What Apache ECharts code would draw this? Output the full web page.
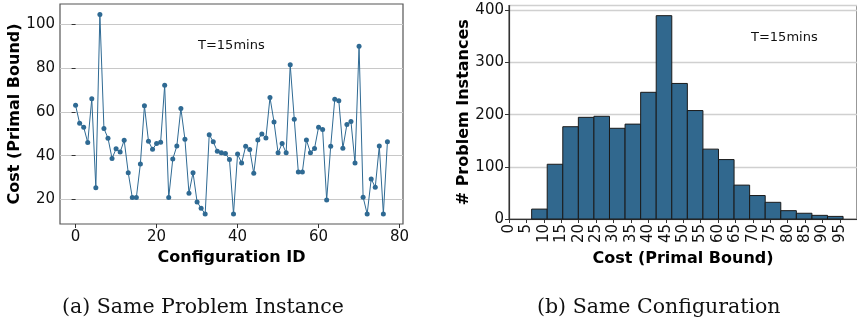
<!DOCTYPE html>
<html>
<head>
<meta charset="utf-8">
<script src="https://cdn.jsdelivr.net/npm/echarts@6/dist/echarts.min.js"></script>
<style>
  html, body { margin: 0; padding: 0; background: #fff; }
  #main { width: 857px; height: 321px; }
</style>
</head>
<body>
<div id="main"></div>
<script>
// (a) cost of each configuration, same problem instance
var costs = [63.0, 54.8, 53.0, 46.0, 66.0, 25.3, 104.6, 52.4, 48.0, 38.7,
             43.1, 41.6, 47.0, 32.2, 20.8, 20.8, 36.2, 62.8, 46.6, 42.9,
             45.5, 46.1, 72.2, 20.8, 38.4, 44.4, 61.6, 47.5, 22.8, 32.2,
             18.8, 15.9, 13.3, 49.6, 46.3, 42.0, 41.3, 41.0, 38.2, 13.3,
             40.7, 36.6, 44.3, 42.8, 31.9, 47.2, 49.9, 48.1, 66.6, 55.4,
             41.3, 45.5, 41.3, 81.6, 56.7, 32.5, 32.5, 47.2, 41.3, 43.3,
             53.0, 51.9, 19.7, 44.3, 65.8, 65.1, 43.4, 54.3, 55.6, 36.6,
             90.1, 21.0, 13.3, 29.3, 25.5, 44.4, 13.3, 46.3];
var idTicks = [0, 20, 40, 60, 80];
var costTicks = [20, 40, 60, 80, 100];

// (b) histogram of cost, same configuration
var binEdges = [6.5, 10.97, 15.44, 19.91, 24.38, 28.85, 33.32, 37.79, 42.26, 46.73, 51.2,
                55.67, 60.14, 64.61, 69.08, 73.55, 78.02, 82.49, 86.96, 91.43, 95.9];
var binCounts = [19, 105, 177, 195, 197, 174, 182, 243, 390, 260,
                 208, 134, 114, 65, 45, 32, 16, 11, 7, 5];
var histTicks = [0, 5, 10, 15, 20, 25, 30, 35, 40, 45, 50, 55, 60, 65, 70, 75, 80, 85, 90, 95];

var chart = echarts.init(document.getElementById('main'));

var font = 'DejaVu Sans';
var lineBlue = '#2f6a93';
var barBlue = '#31688e';
var nameStyle = { fontSize: 16, fontWeight: 'bold', color: '#000', fontFamily: font };

var lineData = costs.map(function (v, i) { return [i, v]; });
var histData = binCounts.map(function (c, i) { return [binEdges[i], binEdges[i + 1], c]; });

option = {
    animation: false,
    textStyle: { fontFamily: font },
    grid: [
        { left: 60, top: 4, width: 343, height: 220, show: true, borderColor: '#555', borderWidth: 1.2 },
        { left: 509, top: 5.5, width: 349, height: 213.5, show: true, borderColor: '#555', borderWidth: 1.2 }
    ],
    xAxis: [
        {
            gridIndex: 0,
            type: 'value',
            min: -3.85,
            max: 80.85,
            name: 'Configuration ID',
            nameLocation: 'middle',
            nameGap: 20,
            nameTextStyle: nameStyle,
            axisLine: { show: false },
            axisTick: { show: true, length: 4, customValues: idTicks, lineStyle: { color: '#333' } },
            axisLabel: { customValues: idTicks, fontSize: 15, color: '#111', margin: 6 },
            splitLine: { show: false }
        },
        {
            gridIndex: 1,
            type: 'value',
            min: 0,
            max: 99.9,
            name: 'Cost (Primal Bound)',
            nameLocation: 'middle',
            nameGap: 26,
            nameTextStyle: nameStyle,
            axisLine: { show: true, lineStyle: { color: '#333', width: 1.2 } },
            axisTick: { show: true, length: 4, customValues: histTicks, lineStyle: { color: '#333' } },
            axisLabel: { customValues: histTicks, fontSize: 15, color: '#111', rotate: 90, margin: 5 },
            splitLine: { show: false }
        }
    ],
    yAxis: [
        {
            gridIndex: 0,
            type: 'value',
            min: 8.7,
            max: 109.4,
            name: 'Cost (Primal Bound)',
            nameLocation: 'middle',
            nameGap: 36,
            nameTextStyle: nameStyle,
            axisLine: { show: false },
            axisTick: { show: true, length: 4, customValues: costTicks, lineStyle: { color: '#333' } },
            axisLabel: { customValues: costTicks, fontSize: 15, color: '#111', margin: 5 },
            splitLine: { show: true, lineStyle: { color: '#c8c8c8', width: 1 } }
        },
        {
            gridIndex: 1,
            type: 'value',
            min: 0,
            max: 409.5,
            interval: 100,
            name: '# Problem Instances',
            nameLocation: 'middle',
            nameGap: 37,
            nameTextStyle: nameStyle,
            axisLine: { show: true, lineStyle: { color: '#333', width: 1.2 } },
            axisTick: { show: true, length: 4, lineStyle: { color: '#333' } },
            axisLabel: { fontSize: 15, color: '#111', margin: 5 },
            splitLine: { show: true, lineStyle: { color: '#d0d0d0', width: 1.3 } }
        }
    ],
    series: [
        {
            name: 'Cost',
            type: 'line',
            xAxisIndex: 0,
            yAxisIndex: 0,
            data: lineData,
            symbol: 'circle',
            symbolSize: 5,
            showAllSymbol: true,
            lineStyle: { color: lineBlue, width: 1 },
            itemStyle: { color: lineBlue }
        },
        {
            name: 'Instances',
            type: 'custom',
            xAxisIndex: 1,
            yAxisIndex: 1,
            data: histData,
            encode: { x: [0, 1], y: 2 },
            renderItem: function (params, api) {
                var p0 = api.coord([api.value(0), api.value(2)]);
                var p1 = api.coord([api.value(1), 0]);
                return {
                    type: 'rect',
                    shape: { x: p0[0], y: p0[1], width: p1[0] - p0[0], height: p1[1] - p0[1] },
                    style: { fill: barBlue, stroke: '#1a1a1a', lineWidth: 1 }
                };
            }
        }
    ],
    graphic: [
        { type: 'text', left: 198, top: 39, style: { text: 'T=15mins', font: '13px "DejaVu Sans"', fill: '#111' } },
        { type: 'text', left: 751, top: 31, style: { text: 'T=15mins', font: '13px "DejaVu Sans"', fill: '#111' } },
        { type: 'text', left: 62, top: 297, style: { text: '(a) Same Problem Instance', font: '20.5px "DejaVu Serif"', fill: '#111' } },
        { type: 'text', left: 537, top: 297, style: { text: '(b) Same Configuration', font: '20.5px "DejaVu Serif"', fill: '#111' } }
    ]
};
chart.setOption(option);
</script>
</body>
</html>
